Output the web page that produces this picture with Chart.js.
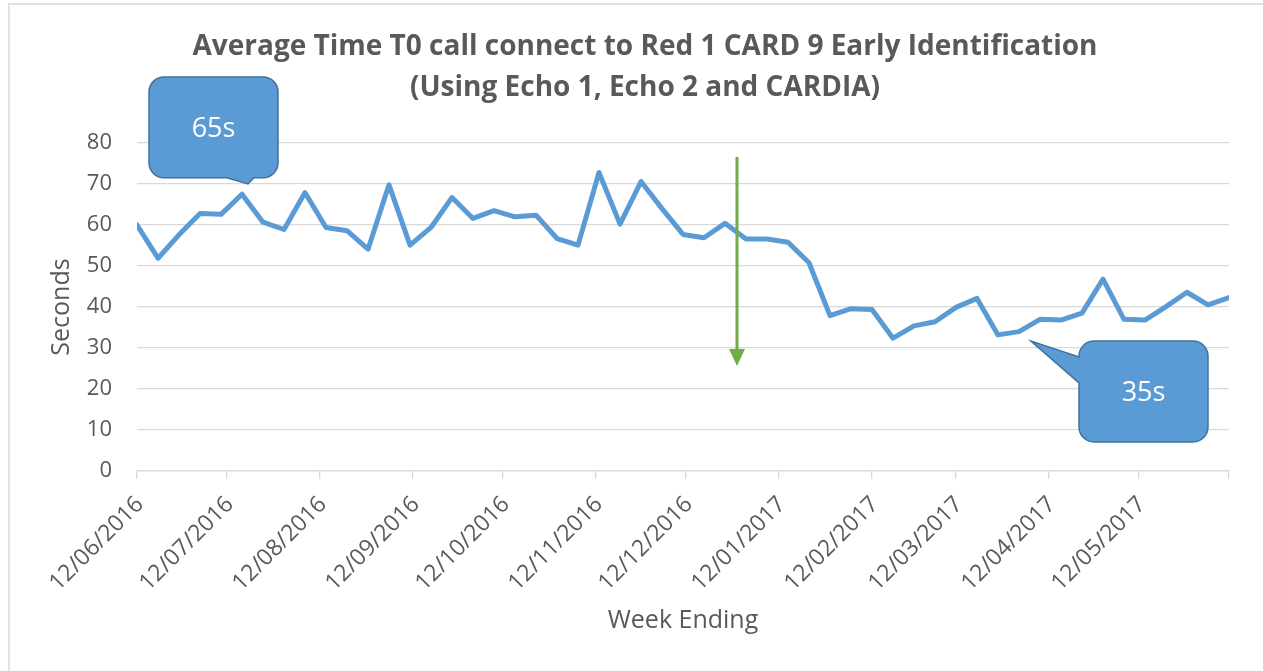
<!DOCTYPE html>
<html>
<head>
<meta charset="utf-8">
<title>Average Time T0 call connect</title>
<script src="https://cdn.jsdelivr.net/npm/chart.js@4.4.1/dist/chart.umd.min.js"></script>
<style>
  html, body { margin: 0; padding: 0; background: #fff; }
  #wrap { position: relative; width: 1263px; height: 671px; overflow: hidden; }
  #frame { position: absolute; left: 8px; top: 3px; width: 1300px; height: 700px;
           border-left: 2px solid #e2e2e2; border-top: 2px solid #e2e2e2; }
  canvas { position: absolute; left: 0; top: 0; }
</style>
</head>
<body>
<div id="wrap">
  <div id="frame"></div>
  <canvas id="avg-time-chart" width="1263" height="671"></canvas>
</div>
<script>
  // Week ending dates (dd/mm/yyyy) and average seconds
  const weekEnding = [
    '12/06/2016', '19/06/2016', '26/06/2016', '03/07/2016', '10/07/2016', '17/07/2016',
    '24/07/2016', '31/07/2016', '07/08/2016', '14/08/2016', '21/08/2016', '28/08/2016',
    '04/09/2016', '11/09/2016', '18/09/2016', '25/09/2016', '02/10/2016', '09/10/2016',
    '16/10/2016', '23/10/2016', '30/10/2016', '06/11/2016', '13/11/2016', '20/11/2016',
    '27/11/2016', '04/12/2016', '11/12/2016', '18/12/2016', '25/12/2016', '01/01/2017',
    '08/01/2017', '15/01/2017', '22/01/2017', '29/01/2017', '05/02/2017', '12/02/2017',
    '19/02/2017', '26/02/2017', '05/03/2017', '12/03/2017', '19/03/2017', '26/03/2017',
    '02/04/2017', '09/04/2017', '16/04/2017', '23/04/2017', '30/04/2017', '07/05/2017',
    '14/05/2017', '21/05/2017', '28/05/2017', '04/06/2017', '11/06/2017'
  ];
  const avgSeconds = [
    60.0, 51.9, 57.6, 62.8, 62.6, 67.5, 60.7, 58.9, 67.9, 59.4, 58.6, 54.1,
    69.8, 55.1, 59.4, 66.7, 61.6, 63.5, 62.0, 62.4, 56.7, 55.1, 72.8, 60.2,
    70.6, 64.0, 57.7, 56.9, 60.4, 56.6, 56.6, 55.8, 50.8, 37.9, 39.6, 39.4,
    32.4, 35.4, 36.4, 39.9, 42.1, 33.2, 34.0, 37.0, 36.8, 38.5, 46.8, 37.0,
    36.8, 40.1, 43.6, 40.5, 42.3
  ];
  const monthTicks = [
    '12/06/2016', '12/07/2016', '12/08/2016', '12/09/2016', '12/10/2016', '12/11/2016',
    '12/12/2016', '12/01/2017', '12/02/2017', '12/03/2017', '12/04/2017', '12/05/2017'
  ];
  const yTicks = [0, 10, 20, 30, 40, 50, 60, 70, 80];

  const titleLines = [
    'Average Time T0 call connect to Red 1 CARD 9 Early Identification',
    '(Using Echo 1, Echo 2 and CARDIA)'
  ];

  // callout boxes, in axis units (date, seconds)
  const callouts = [
    { text: '65s', left: '16/06/2016', right: '29/07/2016', top: 96.1, bottom: 71.5,
      side: 'bottom', base: ['12/07/2016', '21/07/2016'], tip: ['19/07/2016', 70.0] },
    { text: '35s', left: '22/04/2017', right: '04/06/2017', top: 31.7, bottom: 7.1,
      side: 'left', base: [27.8, 21.5], tip: ['06/04/2017', 31.7] }
  ];
  const changeArrow = { at: '29/12/2016', from: 76.6, to: 25.6 };

  function toDay(s) {
    const [d, m, y] = s.split('/').map(Number);
    return Date.UTC(y, m - 1, d) / 86400000;
  }

  const FONT = "'Open Sans', 'Noto Sans', sans-serif";
  const GREY = '#595959';

  const titlePlugin = {
    id: 'excelTitle',
    afterDraw(chart) {
      const ctx = chart.ctx;
      ctx.save();
      ctx.fillStyle = GREY;
      ctx.font = 'bold 28px ' + FONT;
      ctx.textAlign = 'center';
      ctx.textBaseline = 'middle';
      titleLines.forEach((t, i) => ctx.fillText(t, 645, 47 + i * 41));
      ctx.restore();
    }
  };

  function calloutPath(ctx, x0, y0, x1, y1, r, c, xs, ys) {
    const tip = { x: xs.getPixelForValue(toDay(c.tip[0])), y: ys.getPixelForValue(c.tip[1]) };
    ctx.beginPath();
    ctx.moveTo(x0 + r, y0);
    ctx.lineTo(x1 - r, y0);
    ctx.arcTo(x1, y0, x1, y0 + r, r);
    ctx.lineTo(x1, y1 - r);
    ctx.arcTo(x1, y1, x1 - r, y1, r);
    if (c.side === 'bottom') {
      const bx = c.base.map(b => xs.getPixelForValue(toDay(b))).sort((a, b) => b - a);
      ctx.lineTo(bx[0], y1);
      ctx.lineTo(tip.x, tip.y);
      ctx.lineTo(bx[1], y1);
    }
    ctx.lineTo(x0 + r, y1);
    ctx.arcTo(x0, y1, x0, y1 - r, r);
    if (c.side === 'left') {
      const by = c.base.map(b => ys.getPixelForValue(b)).sort((a, b) => b - a);
      ctx.lineTo(x0, by[0]);
      ctx.lineTo(tip.x, tip.y);
      ctx.lineTo(x0, by[1]);
    }
    ctx.lineTo(x0, y0 + r);
    ctx.arcTo(x0, y0, x0 + r, y0, r);
    ctx.closePath();
  }

  const overlayPlugin = {
    id: 'overlays',
    afterDatasetsDraw(chart) {
      const ctx = chart.ctx;
      const xs = chart.scales.x, ys = chart.scales.y;
      ctx.save();
      // green change marker
      const ax = xs.getPixelForValue(toDay(changeArrow.at));
      const ay0 = ys.getPixelForValue(changeArrow.from);
      const ay1 = ys.getPixelForValue(changeArrow.to);
      ctx.strokeStyle = '#70AD47';
      ctx.fillStyle = '#70AD47';
      ctx.lineWidth = 3;
      ctx.beginPath();
      ctx.moveTo(ax, ay0);
      ctx.lineTo(ax, ay1 - 12);
      ctx.stroke();
      ctx.beginPath();
      ctx.moveTo(ax - 8, ay1 - 17);
      ctx.lineTo(ax + 8, ay1 - 17);
      ctx.lineTo(ax, ay1);
      ctx.closePath();
      ctx.fill();
      // callouts
      callouts.forEach(c => {
        const x0 = xs.getPixelForValue(toDay(c.left));
        const x1 = xs.getPixelForValue(toDay(c.right));
        const y0 = ys.getPixelForValue(c.top);
        const y1 = ys.getPixelForValue(c.bottom);
        calloutPath(ctx, x0, y0, x1, y1, 15, c, xs, ys);
        ctx.fillStyle = '#5B9BD5';
        ctx.fill();
        ctx.strokeStyle = '#41719C';
        ctx.lineWidth = 1.5;
        ctx.stroke();
        ctx.fillStyle = '#fff';
        ctx.font = '27px ' + FONT;
        ctx.textAlign = 'center';
        ctx.textBaseline = 'middle';
        ctx.fillText(c.text, (x0 + x1) / 2, (y0 + y1) / 2 + 2);
      });
      ctx.restore();
    }
  };

  const points = weekEnding.map((w, i) => ({ x: toDay(w), y: avgSeconds[i] }));

  new Chart(document.getElementById('avg-time-chart'), {
    type: 'line',
    data: {
      datasets: [{
        data: points,
        borderColor: '#5B9BD5',
        borderWidth: 5,
        borderJoinStyle: 'round',
        borderCapStyle: 'round',
        pointRadius: 0,
        tension: 0,
        fill: false
      }]
    },
    options: {
      responsive: false,
      devicePixelRatio: 1,
      animation: false,
      layout: { padding: { top: 143, right: 34, bottom: 0, left: 0 } },
      plugins: { legend: { display: false }, tooltip: { enabled: false } },
      scales: {
        x: {
          type: 'linear',
          min: toDay(weekEnding[0]),
          max: toDay(weekEnding[weekEnding.length - 1]),
          afterBuildTicks(scale) {
            scale.ticks = monthTicks.map(t => ({ value: toDay(t) })).concat([{ value: scale.max }]);
          },
          afterFit(scale) { scale.height = 200; },
          ticks: {
            autoSkip: false,
            minRotation: 45,
            maxRotation: 45,
            padding: 12,
            labelOffset: 3,
            color: GREY,
            font: { family: FONT, size: 23 },
            callback(value) {
              const i = monthTicks.findIndex(t => toDay(t) === value);
              return i >= 0 ? monthTicks[i] : '';
            }
          },
          grid: { drawOnChartArea: false, drawTicks: true, tickLength: 8, color: '#d9d9d9', lineWidth: 1.3 },
          border: { color: '#d9d9d9', width: 1.3 },
          title: {
            display: true, text: 'Week Ending', color: GREY,
            font: { family: FONT, size: 25 }, padding: { top: 0, bottom: 35 }
          }
        },
        y: {
          min: 0,
          max: 80,
          afterBuildTicks(scale) { scale.ticks = yTicks.map(v => ({ value: v })); },
          afterFit(scale) { scale.width = 137; },
          ticks: { color: GREY, padding: 25, font: { family: FONT, size: 22 } },
          grid: { color: '#d9d9d9', lineWidth: 1.3, drawTicks: false },
          border: { display: false },
          title: {
            display: true, text: 'Seconds', color: GREY,
            font: { family: FONT, size: 25 }, padding: { top: 47, bottom: 0 }
          }
        }
      }
    },
    plugins: [titlePlugin, overlayPlugin]
  });
</script>
</body>
</html>
